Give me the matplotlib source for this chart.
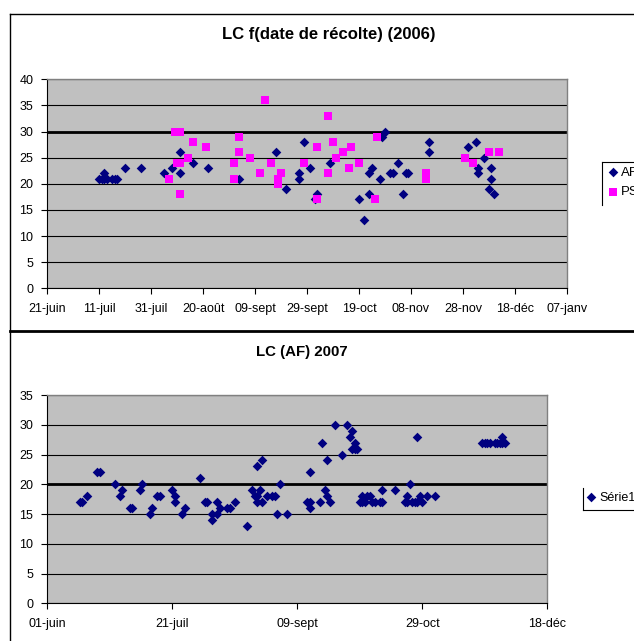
import matplotlib
matplotlib.use('Agg')
import matplotlib.pyplot as plt
import matplotlib.dates as mdates
from matplotlib.lines import Line2D
import pandas as pd

plt.rcParams['font.family'] = ['Liberation Sans', 'DejaVu Sans']

# 2006 - LC vs harvest date, AF and PS
af06_dates = ['2006-07-11', '2006-07-12', '2006-07-13', '2006-07-13', '2006-07-14', '2006-07-16',
              '2006-07-17', '2006-07-18', '2006-07-21', '2006-07-27', '2006-08-05', '2006-08-08',
              '2006-08-11', '2006-08-11', '2006-08-16', '2006-08-22', '2006-09-03', '2006-09-17',
              '2006-09-21', '2006-09-26', '2006-09-26', '2006-09-28', '2006-09-30', '2006-10-02',
              '2006-10-03', '2006-10-08', '2006-10-19', '2006-10-21', '2006-10-23', '2006-10-23',
              '2006-10-24', '2006-10-27', '2006-10-28', '2006-10-29', '2006-10-31', '2006-11-01',
              '2006-11-03', '2006-11-05', '2006-11-06', '2006-11-07', '2006-11-15', '2006-11-15',
              '2006-11-30', '2006-12-03', '2006-12-04', '2006-12-04', '2006-12-06', '2006-12-08',
              '2006-12-09', '2006-12-09', '2006-12-10']
af06_vals = [21, 21, 21, 22, 21, 21,
             21, 21, 23, 23, 22, 23,
             26, 22, 24, 23, 21, 26,
             19, 22, 21, 28, 23, 17,
             18, 24, 17, 13, 22, 18,
             23, 21, 29, 30, 22, 22,
             24, 18, 22, 22, 28, 26,
             27, 28, 23, 22, 25, 19,
             23, 21, 18]

ps06_dates = ['2006-08-07', '2006-08-09', '2006-08-11', '2006-08-10', '2006-08-11', '2006-08-11',
              '2006-08-14', '2006-08-16', '2006-08-21', '2006-09-01', '2006-09-01', '2006-09-03',
              '2006-09-03', '2006-09-07', '2006-09-11', '2006-09-13', '2006-09-15', '2006-09-18',
              '2006-09-18', '2006-09-19', '2006-09-28', '2006-10-03', '2006-10-03', '2006-10-07',
              '2006-10-07', '2006-10-09', '2006-10-10', '2006-10-13', '2006-10-15', '2006-10-16',
              '2006-10-19', '2006-10-25', '2006-10-26', '2006-11-14', '2006-11-14', '2006-11-29',
              '2006-12-02', '2006-12-08', '2006-12-12']
ps06_vals = [21, 30, 30, 24, 24, 18,
             25, 28, 27, 24, 21, 29,
             26, 25, 22, 36, 24, 21,
             20, 22, 24, 27, 17, 33,
             22, 28, 25, 26, 23, 27,
             24, 17, 29, 22, 21, 25,
             24, 26, 26]

ticks06 = ['2006-06-21', '2006-07-11', '2006-07-31', '2006-08-20', '2006-09-09', '2006-09-29',
           '2006-10-19', '2006-11-08', '2006-11-28', '2006-12-18', '2007-01-07']
ticklabels06 = ['21-juin', '11-juil', '31-juil', '20-août', '09-sept', '29-sept',
                '19-oct', '08-nov', '28-nov', '18-déc', '07-janv']

# 2007 - LC (AF)
s07_dates = ['2007-06-14', '2007-06-15', '2007-06-17', '2007-06-21', '2007-06-22', '2007-06-28',
             '2007-06-30', '2007-07-01', '2007-07-04', '2007-07-05', '2007-07-08', '2007-07-09',
             '2007-07-12', '2007-07-13', '2007-07-15', '2007-07-16', '2007-07-21', '2007-07-22',
             '2007-07-22', '2007-07-25', '2007-07-26', '2007-08-01', '2007-08-03', '2007-08-04',
             '2007-08-06', '2007-08-06', '2007-08-08', '2007-08-08', '2007-08-09', '2007-08-12',
             '2007-08-13', '2007-08-15', '2007-08-20', '2007-08-22', '2007-08-23', '2007-08-24',
             '2007-08-24', '2007-08-24', '2007-08-25', '2007-08-26', '2007-08-26', '2007-08-28',
             '2007-08-30', '2007-08-31', '2007-09-01', '2007-09-02', '2007-09-05', '2007-09-13',
             '2007-09-14', '2007-09-14', '2007-09-14', '2007-09-18', '2007-09-19', '2007-09-20',
             '2007-09-21', '2007-09-21', '2007-09-22', '2007-09-24', '2007-09-27', '2007-09-29',
             '2007-09-30', '2007-10-01', '2007-10-02', '2007-10-01', '2007-10-02', '2007-10-03',
             '2007-10-04', '2007-10-05', '2007-10-06', '2007-10-09', '2007-10-10', '2007-10-12',
             '2007-10-13', '2007-10-05', '2007-10-07', '2007-10-08', '2007-10-13', '2007-10-18',
             '2007-10-23', '2007-10-24', '2007-10-22', '2007-10-23', '2007-10-25', '2007-10-26',
             '2007-10-27', '2007-10-29', '2007-10-27', '2007-10-28', '2007-10-31', '2007-11-03',
             '2007-11-22', '2007-11-23', '2007-11-24', '2007-11-25', '2007-11-27', '2007-11-28',
             '2007-11-29', '2007-11-30', '2007-12-01', '2007-11-30']
s07_vals = [17, 17, 18, 22, 22, 20,
            18, 19, 16, 16, 19, 20,
            15, 16, 18, 18, 19, 18,
            17, 15, 16, 21, 17, 17,
            15, 14, 17, 15, 16, 16,
            16, 17, 13, 19, 18, 18,
            17, 23, 19, 24, 17, 18,
            18, 18, 15, 20, 15, 17,
            17, 22, 16, 17, 27, 19,
            24, 18, 17, 30, 25, 30,
            28, 29, 27, 26, 26, 26,
            17, 17, 17, 17, 17, 17,
            17, 18, 18, 18, 19, 19,
            18, 20, 17, 17, 17, 17,
            17, 17, 28, 18, 18, 18,
            27, 27, 27, 27, 27, 27,
            27, 27, 27, 28]

ticks07 = ['2007-06-01', '2007-07-21', '2007-09-09', '2007-10-29', '2007-12-18']
ticklabels07 = ['01-juin', '21-juil', '09-sept', '29-oct', '18-déc']

W, H = 634, 641
fig = plt.figure(figsize=(W / 100, H / 100), dpi=100)


def px_axes(x0, y0, x1, y1):
    # pixel box (top-left origin) -> figure axes
    return fig.add_axes([x0 / W, 1 - y1 / H, (x1 - x0) / W, (y1 - y0) / H])


def style(ax, ymax, ticks, labels, thick):
    ax.set_facecolor('#C0C0C0')
    ax.set_xlim(mdates.date2num(pd.Timestamp(ticks[0])), mdates.date2num(pd.Timestamp(ticks[-1])))
    ax.set_xticks([mdates.date2num(pd.Timestamp(t)) for t in ticks])
    ax.set_xticklabels(labels)
    ax.set_ylim(0, ymax)
    ax.set_yticks(range(0, ymax + 1, 5))
    ax.yaxis.grid(True, color='black', lw=0.8, zorder=1)
    ax.set_axisbelow(True)
    ax.axhline(thick, color='black', lw=2.0, zorder=1.5)
    for s in ['top', 'right']:
        ax.spines[s].set_color('#808080')
        ax.spines[s].set_linewidth(1.0)
    for s in ['left', 'bottom']:
        ax.spines[s].set_color('black')
        ax.spines[s].set_linewidth(0.8)
    ax.tick_params(axis='x', direction='out', length=4, width=0.8, labelsize=9, pad=6.5)
    ax.tick_params(axis='y', direction='out', length=4, width=0.8, labelsize=9, pad=6)


# chart frames
fig.add_artist(Line2D([10 / W, 10 / W], [0, 1 - 14 / H], color='black', lw=1.0))
fig.add_artist(Line2D([10 / W, 1], [1 - 14 / H, 1 - 14 / H], color='black', lw=1.0))
fig.add_artist(Line2D([10 / W, 1], [1 - 331 / H, 1 - 331 / H], color='black', lw=2.0))

# top chart
ax1 = px_axes(47.3, 79.3, 566.7, 288.3)
style(ax1, 40, ticks06, ticklabels06, 30)
h_af = ax1.scatter(pd.to_datetime(af06_dates), af06_vals, marker='D', s=24, color='#000080',
                   zorder=3, linewidths=0)
h_ps = ax1.scatter(pd.to_datetime(ps06_dates), ps06_vals, marker='s', s=30, color='#FF00FF',
                   zorder=4, linewidths=0)
fig.text(329 / W, 1 - 35 / H, 'LC f(date de récolte) (2006)', ha='center', va='center',
         fontsize=12, fontweight='bold')
ax1.legend([h_af, h_ps], ['AF', 'PS'], loc='upper left', bbox_to_anchor=(604 / W, 1 - 162 / H),
           bbox_transform=fig.transFigure, frameon=False, borderaxespad=0, borderpad=0.35,
           handlelength=0.6, handletextpad=0.35, labelspacing=0.55, fontsize=9.5,
           scatterpoints=1)
fig.add_artist(Line2D([602 / W, 602 / W], [1 - 162 / H, 1 - 205 / H], color='black', lw=0.8))
fig.add_artist(Line2D([602 / W, 1], [1 - 162 / H, 1 - 162 / H], color='black', lw=0.8))

# bottom chart
ax2 = px_axes(47.3, 395, 547.3, 603.3)
style(ax2, 35, ticks07, ticklabels07, 20)
h_s1 = ax2.scatter(pd.to_datetime(s07_dates), s07_vals, marker='D', s=24, color='#000080',
                   zorder=3, linewidths=0)
fig.text(302 / W, 1 - 352 / H, 'LC (AF) 2007', ha='center', va='center',
         fontsize=10.8, fontweight='bold')
ax2.legend([h_s1], ['Série1'], loc='upper left', bbox_to_anchor=(584 / W, 1 - 488 / H),
           bbox_transform=fig.transFigure, frameon=False, borderaxespad=0, borderpad=0.3,
           handlelength=0.5, handletextpad=0.4, fontsize=9, scatterpoints=1)
fig.add_artist(Line2D([582.5 / W, 582.5 / W], [1 - 488 / H, 1 - 510 / H], color='black', lw=0.8))
fig.add_artist(Line2D([582.5 / W, 1], [1 - 510 / H, 1 - 510 / H], color='black', lw=0.8))

fig.savefig('out.png', dpi=100)
